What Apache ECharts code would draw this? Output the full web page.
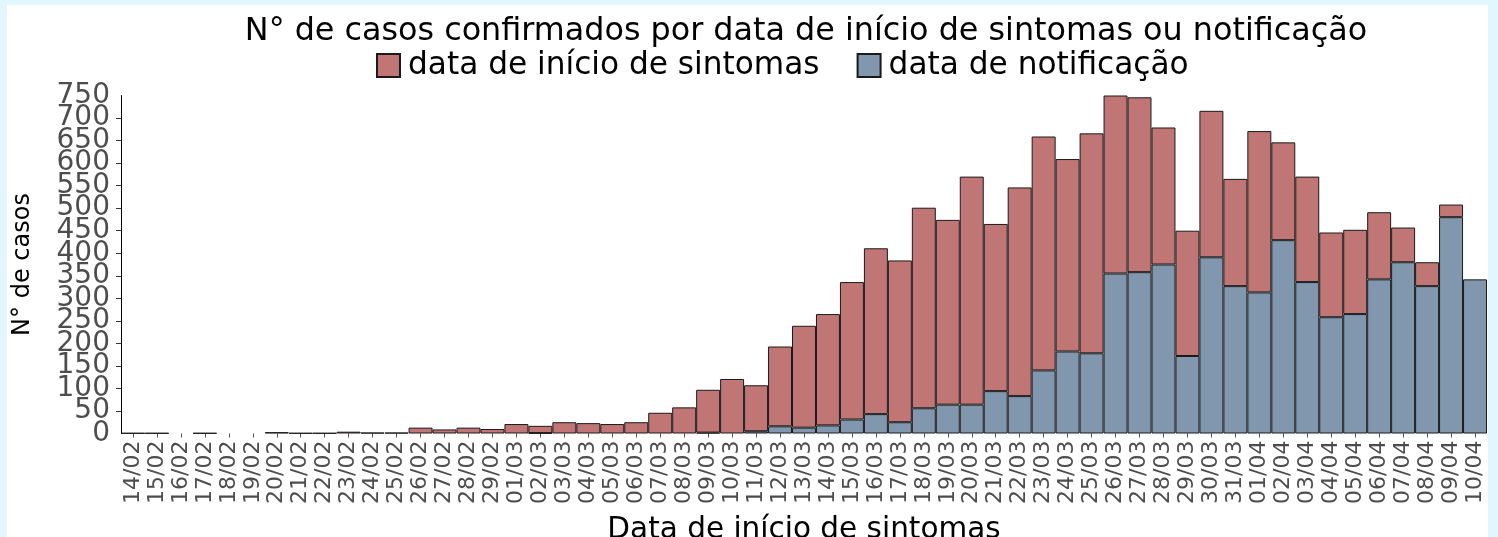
<!DOCTYPE html>
<html>
<head>
<meta charset="utf-8">
<script src="https://cdn.jsdelivr.net/npm/echarts@6/dist/echarts.min.js"></script>
<style>
  html, body { margin: 0; padding: 0; background: #e1f7fd; width: 1498px; height: 537px; overflow: hidden; }
  #chart { position: absolute; left: 7px; top: 5px; width: 1481px; height: 532px; background: #ffffff; }
</style>
</head>
<body>
<div id="chart"></div>
<script>
const categories = ["14/02","15/02","16/02","17/02","18/02","19/02","20/02","21/02","22/02","23/02","24/02","25/02","26/02","27/02","28/02","29/02",
  "01/03","02/03","03/03","04/03","05/03","06/03","07/03","08/03","09/03","10/03","11/03","12/03","13/03","14/03","15/03","16/03",
  "17/03","18/03","19/03","20/03","21/03","22/03","23/03","24/03","25/03","26/03","27/03","28/03","29/03","30/03","31/03",
  "01/04","02/04","03/04","04/04","05/04","06/04","07/04","08/04","09/04","10/04"];

// segment "data de notificação" (bottom, blue)
const notificacao = [0,0,0,0,0,0,0,0,0,0,0,0,0,0,0,0,
  0,1,0,0,0,0,0,0,2,0,5,16,13,18,31,43,
  25,56,64,64,94,83,140,182,178,355,358,375,172,391,327,
  313,429,336,258,265,342,380,327,480,342];

// segment "data de início de sintomas" (top, red)
const inicioSintomas = [1,1,0,1,0,0,3,1,1,4,2,2,13,9,13,10,
  21,16,25,23,21,25,46,58,95,121,102,177,226,247,305,368,
  359,445,410,506,371,463,519,427,488,395,388,304,278,325,238,
  358,217,234,188,187,149,77,53,28,0];

const yTicks = { min: 0, max: 750, interval: 50 };
const yEndLabels = [0, 750];

const titleText = "N° de casos confirmados por data de início de sintomas ou notificação";
const seriesNames = ["data de início de sintomas", "data de notificação"];
const xName = "Data de início de sintomas";
const yName = "N° de casos";

const FONT = "DejaVu Sans";
const chart = echarts.init(document.getElementById('chart'), null, { renderer: 'canvas' });
const toBar = arr => arr.map(v => (v === 0 ? null : v));
const yLabelStyle = { margin: 11, fontFamily: FONT, fontSize: 28, color: '#4d4d4d' };

chart.setOption({
  animation: false,
  backgroundColor: '#ffffff',
  textStyle: { fontFamily: FONT },
  graphic: [{
    type: 'text', x: 799, y: 11,
    style: { text: titleText, fontFamily: FONT, fontSize: 31.8, fill: '#000000', textAlign: 'center', textVerticalAlign: 'top' }
  }],
  legend: {
    data: seriesNames,
    left: 364, top: 40,
    itemWidth: 23, itemHeight: 23, itemGap: 37,
    icon: 'rect',
    textStyle: { fontFamily: FONT, fontSize: 31.2, color: '#000000', padding: [0, 0, 0, 3] }
  },
  grid: { left: 114, right: 1, top: 90.5, bottom: 103.5, containLabel: false, outerBoundsMode: 'none' },
  xAxis: {
    type: 'category',
    data: categories,
    boundaryGap: true,
    name: xName,
    nameLocation: 'middle',
    nameGap: 82,
    nameTextStyle: { fontFamily: FONT, fontSize: 29.5, color: '#000000' },
    axisLine: { show: false },
    axisTick: { show: true, alignWithLabel: true, length: 4, lineStyle: { color: '#555555' } },
    axisLabel: { interval: 0, rotate: 90, margin: 7, fontFamily: FONT, fontSize: 22, color: '#4d4d4d' }
  },
  yAxis: [
    {
      type: 'value',
      min: yTicks.min, max: yTicks.max, interval: yTicks.interval,
      name: yName,
      nameLocation: 'middle',
      nameGap: 86,
      nameTextStyle: { fontFamily: FONT, fontSize: 24, color: '#000000' },
      axisLine: { show: true, lineStyle: { color: '#000000', width: 1 } },
      axisTick: { show: true, length: 5, lineStyle: { color: '#333333' } },
      splitLine: { show: false },
      axisLabel: yLabelStyle
    },
    {
      type: 'value', position: 'left',
      min: yTicks.min, max: yTicks.max, interval: yTicks.interval,
      axisLine: { show: false }, axisTick: { show: false }, splitLine: { show: false },
      axisLabel: Object.assign({}, yLabelStyle, {
        showMinLabel: true, showMaxLabel: true,
        formatter: v => (yEndLabels.indexOf(v) >= 0 ? String(v) : '')
      })
    }
  ],
  series: [
    {
      name: seriesNames[1], type: 'bar', stack: 'total',
      data: toBar(notificacao),
      barCategoryGap: '0%',
      itemStyle: { color: '#8097ae', borderColor: '#1a1a1a', borderWidth: 1 }
    },
    {
      name: seriesNames[0], type: 'bar', stack: 'total',
      data: toBar(inicioSintomas),
      barCategoryGap: '0%',
      itemStyle: { color: '#c17676', borderColor: '#1a1a1a', borderWidth: 1 }
    }
  ]
});
</script>
</body>
</html>
